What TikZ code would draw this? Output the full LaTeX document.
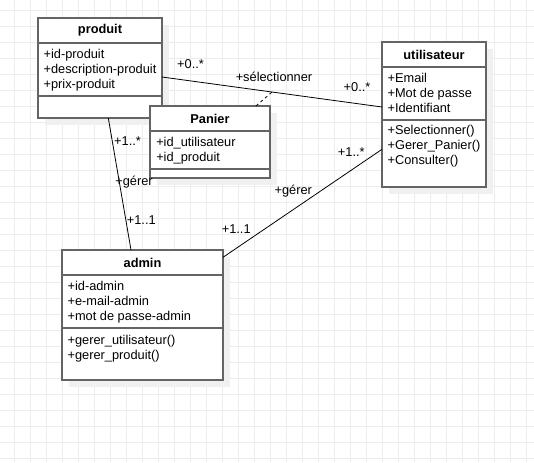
\documentclass[tikz,border=0pt]{standalone}
\usepackage{fontspec}
\setmainfont{Liberation Sans}
\usetikzlibrary{calc}
\definecolor{gridgray}{RGB}{236,236,236}
\definecolor{shadowgray}{RGB}{240,240,240}
\definecolor{boxgray}{RGB}{100,100,100}
\tikzset{
    gridline/.style={draw=gridgray,line width=0.75pt},
    clsshadow/.style={fill=shadowgray},
    clsbox/.style={draw=boxgray,fill=white,line width=0.9pt,anchor=north west,inner sep=0pt,outer sep=0pt},
    seprule/.style={draw=boxgray,line width=0.9pt},
    clstitle/.style={inner sep=0pt,font=\fontsize{9.6}{11.25}\selectfont\bfseries},
    clstext/.style={anchor=north west,align=left,inner sep=0pt,font=\fontsize{9.6}{11.25}\selectfont},
    asslbl/.style={inner sep=0pt,font=\fontsize{9.6}{11.25}\selectfont}
}

\begin{document}
\begin{tikzpicture}[x=0.75pt,y=-0.75pt]
        \useasboundingbox (0,0) rectangle (534,462);
        %---
        \foreach \gx in {14,30,...,526} {
            \draw[gridline] (\gx,0) -- (\gx,462);
        }
        \foreach \gy in {10,26,...,458} {
            \draw[gridline] (0,\gy) -- (534,\gy);
        }

        %---
        \fill[clsshadow] (45,25) rectangle (169,125);
        \node[clsbox,minimum width=93pt,minimum height=75pt] (c-produit) at (38,18) {};
        \draw[seprule] (38,43) -- (162,43);
        \draw[seprule] (38,96) -- (162,96);
        \node[clstitle] (t-produit) at (100,30.5) {produit};
        \node[clstext] (a-produit) at (43.3,48.6) {+id-produit\\+description-produit\\+prix-produit};

        \fill[clsshadow] (157,113) rectangle (277,185);
        \node[clsbox,minimum width=90pt,minimum height=54pt] (c-panier) at (150,106) {};
        \draw[seprule] (150,131) -- (270,131);
        \draw[seprule] (150,169) -- (270,169);
        \node[clstitle] (t-panier) at (210,118.5) {Panier};
        \node[clstext] (a-panier) at (156,137) {+id\_utilisateur\\+id\_produit};

        \fill[clsshadow] (389,49) rectangle (493,194);
        \node[clsbox,minimum width=78pt,minimum height=108.75pt] (c-utilisateur) at (382,42) {};
        \draw[seprule] (382,67) -- (486,67);
        \draw[seprule] (382,120) -- (486,120);
        \node[clstitle] (t-utilisateur) at (434,54.5) {utilisateur};
        \node[clstext] (a-utilisateur) at (387.3,73) {+Email\\+Mot de passe\\+Identifiant};
        \node[clstext] (o-utilisateur) at (387.3,125.3) {+Selectionner()\\+Gerer\_Panier()\\+Consulter()};

        \fill[clsshadow] (69,257) rectangle (230,387);
        \node[clsbox,minimum width=120.75pt,minimum height=97.5pt] (c-admin) at (62,250) {};
        \draw[seprule] (62,275) -- (223,275);
        \draw[seprule] (62,328) -- (223,328);
        \node[clstitle] (t-admin) at (142.5,262.5) {admin};
        \node[clstext] (a-admin) at (67.3,281.3) {+id-admin\\+e-mail-admin\\+mot de passe-admin};
        \node[clstext] (o-admin) at (67.3,334.6) {+gerer\_utilisateur()\\+gerer\_produit()};

        %---
        \begin{scope}[line width=0.6pt]
            \draw ($(c-produit.east)+(0,9)$) -- coordinate[pos=.5] (m-select) ($(c-utilisateur.west)+(0,-7.5)$);
            \draw[dash pattern=on 2.25pt off 2.25pt] ($(c-panier.north)+(46,0)$) -- (m-select);
            \draw ($(c-produit.south)+(8.3,0)$) -- ($(c-admin.north)+(-11.5,0)$);
            \draw ($(c-admin.east)+(0,-57.7)$) -- ($(c-utilisateur.west)+(0,34.8)$);
        \end{scope}

        \node[asslbl] (l-p-sel) at (190.5,64) {+0..*};
        \node[asslbl] (l-sel) at (274,77) {+sélectionner};
        \node[asslbl] (l-u-sel) at (357,87) {+0..*};
        \node[asslbl] (l-p-ger) at (127.5,140.7) {+1..*};
        \node[asslbl] (l-ger-p) at (134,182) {+gérer};
        \node[asslbl] (l-a-ger-p) at (141.3,220) {+1..1};
        \node[asslbl] (l-u-ger) at (351.3,152) {+1..*};
        \node[asslbl] (l-ger-u) at (293.3,191) {+gérer};
        \node[asslbl] (l-a-ger-u) at (236.2,229) {+1..1};
    \end{tikzpicture}
\end{document}
